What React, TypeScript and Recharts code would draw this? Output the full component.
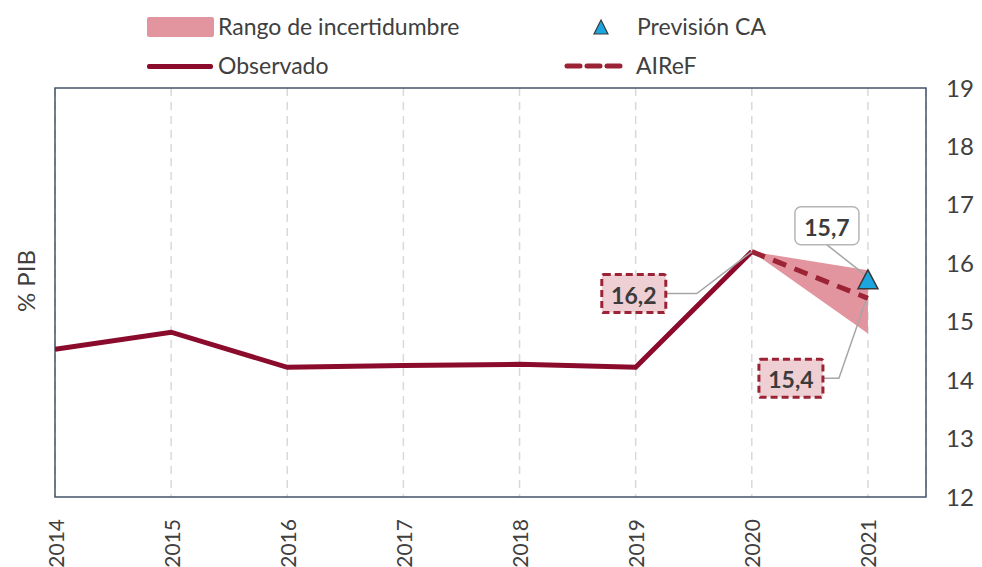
import React from 'react';
import {
  Area,
  CartesianGrid,
  ComposedChart,
  Line,
  ReferenceArea,
  Scatter,
  XAxis,
  YAxis,
} from 'recharts';

const years = [2014, 2015, 2016, 2017, 2018, 2019, 2020, 2021];
const observado = [14.53, 14.82, 14.22, 14.25, 14.27, 14.22, 16.2, null];
const airef = [null, null, null, null, null, null, 16.2, 15.4];
const bandLow = [null, null, null, null, null, null, 16.2, 14.8];
const bandHigh = [null, null, null, null, null, null, 16.2, 15.88];
const prevision = [null, null, null, null, null, null, null, 15.7];
const yTicks = [12, 13, 14, 15, 16, 17, 18, 19];

const FONT = 'Lato, "Open Sans", sans-serif';
const DARK = '#8A0B2C';
const DASH = '#9B2335';
const BAND = '#E3959F';

const rows = years.map((year, i) => ({
  year,
  observado: observado[i],
  airef: airef[i],
  band: bandLow[i] == null ? null : [bandLow[i], bandHigh[i]],
  prevision: prevision[i],
}));

const fmt = (v: number) => v.toFixed(1).replace('.', ',');

const ValueBox = ({ cx, cy, text, dashed }: { cx: number; cy: number; text: string; dashed: boolean }) => (
  <g>
    <rect
      x={cx - 32}
      y={cy - 19}
      width={64}
      height={38}
      rx={dashed ? 2 : 6}
      fill={dashed ? '#EECFD3' : '#fff'}
      stroke={dashed ? DASH : '#B5B5B5'}
      strokeWidth={dashed ? 3 : 1.5}
      strokeDasharray={dashed ? '7 4' : undefined}
    />
    <text
      x={cx}
      y={cy + 1}
      textAnchor="middle"
      dominantBaseline="central"
      fontFamily={FONT}
      fontWeight={700}
      fontSize={23}
      fill="#3B3B3B"
    >
      {text}
    </text>
  </g>
);

const XTick = (props: any) => {
  const { x, y, payload } = props;
  return (
    <text
      x={x}
      y={y + 14}
      transform={`rotate(-90, ${x}, ${y + 14})`}
      textAnchor="end"
      dominantBaseline="central"
      fontFamily={FONT}
      fontSize={21}
      fill="#404040"
    >
      {payload.value}
    </text>
  );
};

// triangle marker plus its value callout
const PrevisionMark = (props: any) => {
  const { cx, cy, payload } = props;
  if (cx == null || cy == null || payload?.prevision == null) return <g />;
  return (
    <g>
      <line x1={cx - 41} y1={cy - 36} x2={cx - 3} y2={cy - 6} stroke="#A6A6A6" strokeWidth={1.5} />
      <ValueBox cx={cx - 41} cy={cy - 55} text={fmt(payload.prevision)} dashed={false} />
      <polygon
        points={`${cx},${cy - 11} ${cx + 10},${cy + 8} ${cx - 10},${cy + 8}`}
        fill="#1BA6E0"
        stroke="#3A3A3A"
        strokeWidth={1.5}
      />
    </g>
  );
};

const LegendBox = () => (
  <div style={{ position: 'absolute', left: 0, top: 0, width: 982, height: 88, fontFamily: FONT, fontSize: 23, color: '#404040' }}>
    <div style={{ position: 'absolute', left: 147, top: 17, width: 67, height: 20, background: BAND, borderRadius: 2 }} />
    <span style={{ position: 'absolute', left: 218, top: 12 }}>Rango de incertidumbre</span>
    <svg style={{ position: 'absolute', left: 589, top: 16 }} width={24} height={24}>
      <polygon points="12,4 19,18 5,18" fill="#1BA6E0" stroke="#3A3A3A" strokeWidth={1.2} />
    </svg>
    <span style={{ position: 'absolute', left: 637, top: 12 }}>Previsión CA</span>
    <div style={{ position: 'absolute', left: 147, top: 64, width: 66, height: 5, background: DARK, borderRadius: 2 }} />
    <span style={{ position: 'absolute', left: 218, top: 51 }}>Observado</span>
    <svg style={{ position: 'absolute', left: 564, top: 61 }} width={64} height={10}>
      <line x1={3} y1={5} x2={60} y2={5} stroke={DASH} strokeWidth={5} strokeDasharray="13 7" strokeLinecap="round" />
    </svg>
    <span style={{ position: 'absolute', left: 636, top: 51 }}>AIReF</span>
  </div>
);

export default function App() {
  return (
    <div style={{ position: 'absolute', left: 0, top: 0, width: 982, height: 567, background: '#fff', overflow: 'hidden' }}>
      <ComposedChart width={982} height={567} data={rows} margin={{ top: 88, right: 0, bottom: 0, left: 55 }}>
        <CartesianGrid horizontal={false} stroke="#D9D9D9" strokeDasharray="8 6" strokeWidth={1.5} />
        <XAxis
          dataKey="year"
          type="number"
          domain={[2014, 2021.5]}
          ticks={years}
          height={70}
          tick={<XTick />}
          tickLine={false}
          axisLine={false}
          interval={0}
          allowDataOverflow
        />
        <YAxis
          orientation="right"
          domain={[12, 19]}
          ticks={yTicks}
          width={56}
          tickLine={false}
          axisLine={false}
          tickMargin={14}
          tick={{ fontFamily: FONT, fontSize: 24, fill: '#404040' }}
          allowDataOverflow
        />
        <Area
          dataKey="band"
          type="linear"
          fill={BAND}
          fillOpacity={1}
          stroke="none"
          legendType="none"
          isAnimationActive={false}
        />
        <Line
          dataKey="observado"
          type="linear"
          stroke={DARK}
          strokeWidth={5}
          dot={false}
          activeDot={false}
          isAnimationActive={false}
          label={(p: any) =>
            p.index === 6 ? (
              <g key="lab-obs">
                <polyline
                  points={`${p.x},${p.y} ${p.x - 55},${p.y + 42} ${p.x - 86},${p.y + 42}`}
                  fill="none"
                  stroke="#A6A6A6"
                  strokeWidth={1.5}
                />
                <ValueBox cx={p.x - 118} cy={p.y + 42} text={fmt(p.value)} dashed />
              </g>
            ) : (
              <g key={`lab-obs-${p.index}`} />
            )
          }
        />
        <Line
          dataKey="airef"
          type="linear"
          stroke={DASH}
          strokeWidth={5}
          strokeDasharray="14 9"
          dot={false}
          activeDot={false}
          isAnimationActive={false}
          label={(p: any) =>
            p.index === 7 ? (
              <g key="lab-airef">
                <polyline
                  points={`${p.x - 2},${p.y + 2} ${p.x - 29},${p.y + 80} ${p.x - 44},${p.y + 80}`}
                  fill="none"
                  stroke="#A6A6A6"
                  strokeWidth={1.5}
                />
                <ValueBox cx={p.x - 77} cy={p.y + 80} text={fmt(p.value)} dashed />
              </g>
            ) : (
              <g key={`lab-airef-${p.index}`} />
            )
          }
        />
        <Scatter dataKey="prevision" shape={<PrevisionMark />} isAnimationActive={false} />
        <ReferenceArea x1={2014} x2={2021.5} y1={12} y2={19} fill="none" stroke="#44546A" strokeWidth={1.5} ifOverflow="visible" />
      </ComposedChart>
      <LegendBox />
      <div
        style={{
          position: 'absolute',
          left: 25,
          top: 281,
          transform: 'translate(-50%, -50%) rotate(-90deg)',
          fontFamily: FONT,
          fontSize: 24,
          color: '#404040',
          whiteSpace: 'nowrap',
        }}
      >
        % PIB
      </div>
    </div>
  );
}
